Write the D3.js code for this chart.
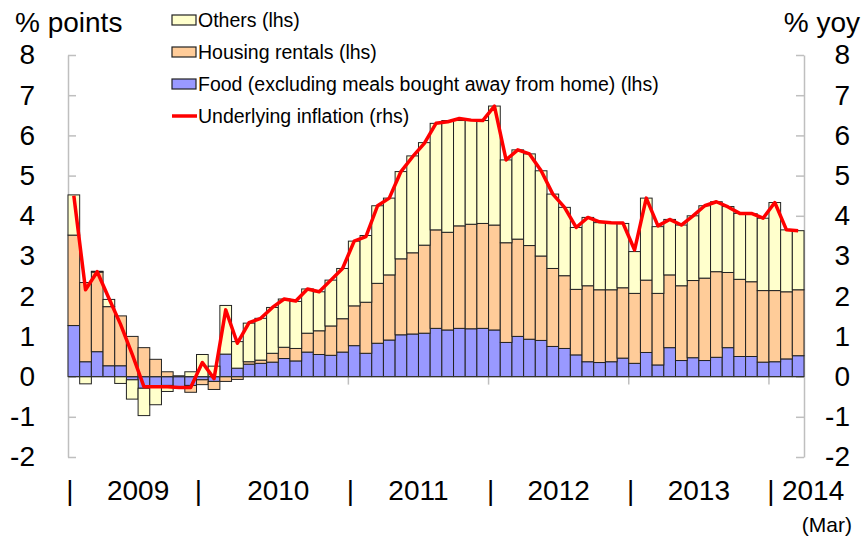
<!DOCTYPE html>
<html>
<head>
<meta charset="utf-8">
<script src="https://cdn.jsdelivr.net/npm/d3@7"></script>
<style>
  body { margin: 0; background: #fff; }
  svg text { font-family: "Liberation Sans", Arial, sans-serif; fill: #000; }
</style>
</head>
<body>
<svg id="chart" width="866" height="542"></svg>
<script>
// monthly, Jan 2009 - Mar 2014
var months = d3.timeMonths(new Date(2009, 0, 1), new Date(2014, 3, 1));

var food = [1.27, 0.37, 0.62, 0.27, 0.27, -0.08, -0.29, -0.25, -0.22, -0.25, -0.22, -0.08, -0.12, 0.56, 0.21,
  0.31, 0.33, 0.36, 0.45, 0.39, 0.61, 0.55, 0.53, 0.61, 0.77, 0.58, 0.83, 0.91, 1.04, 1.06, 1.08, 1.20,
  1.16, 1.20, 1.19, 1.20, 1.16, 0.85, 1.00, 0.93, 0.90, 0.75, 0.70, 0.54, 0.37, 0.35, 0.37,
  0.46, 0.33, 0.60, 0.29, 0.72, 0.40, 0.47, 0.40, 0.48, 0.72, 0.50, 0.50, 0.36, 0.37, 0.44, 0.52];

var housing = [2.25, 1.97, 1.98, 1.47, 1.24, 1.00, 0.72, 0.43, 0.12, 0.02, -0.17, -0.12, -0.20, -0.12, -0.07,
  0.06, 0.08, 0.22, 0.28, 0.31, 0.47, 0.59, 0.73, 0.83, 0.99, 1.27, 1.49, 1.62, 1.89, 2.02, 2.19, 2.45,
  2.43, 2.55, 2.60, 2.61, 2.61, 2.48, 2.42, 2.33, 2.10, 1.94, 1.81, 1.63, 1.89, 1.81, 1.79,
  1.75, 1.74, 1.80, 1.78, 1.81, 1.86, 1.92, 2.05, 2.13, 1.87, 1.92, 1.86, 1.78, 1.77, 1.67, 1.64];

var others = [1.00, -0.18, 0.02, 0.18, -0.17, -0.48, -0.68, -0.45, -0.15, 0.00, 0.12, 0.55, 0.26, 1.21, 0.66,
  0.96, 1.04, 1.14, 1.20, 1.17, 1.10, 0.97, 1.14, 1.25, 1.61, 1.66, 1.93, 1.91, 2.17, 2.41, 2.55, 2.65,
  2.78, 2.62, 2.58, 2.56, 2.96, 2.06, 2.22, 2.28, 2.12, 1.85, 1.70, 1.54, 1.70, 1.67, 1.65,
  1.60, 1.04, 2.04, 1.66, 1.38, 1.51, 1.61, 1.80, 1.74, 1.64, 1.64, 1.69, 1.80, 2.19, 1.54, 1.47];

var underlying = [4.50, 2.16, 2.61, 1.95, 1.30, 0.55, -0.25, -0.25, -0.25, -0.27, -0.27, 0.35, -0.05, 1.66, 0.83,
  1.34, 1.45, 1.72, 1.93, 1.88, 2.18, 2.11, 2.40, 2.69, 3.37, 3.48, 4.25, 4.44, 5.10, 5.47, 5.80, 6.30,
  6.34, 6.42, 6.38, 6.37, 6.73, 5.39, 5.64, 5.54, 5.12, 4.54, 4.21, 3.71, 3.96, 3.85, 3.83,
  3.82, 3.15, 4.44, 3.75, 3.91, 3.77, 4.00, 4.25, 4.35, 4.22, 4.06, 4.06, 3.94, 4.33, 3.65, 3.63];

var yTicks = [-2, -1, 0, 1, 2, 3, 4, 5, 6, 7, 8];
var years = ["2009", "2010", "2011", "2012", "2013", "2014"];

var series = [
  { key: "food", label: "Food (excluding meals bought away from home) (lhs)", color: "#9999ff" },
  { key: "housing", label: "Housing rentals (lhs)", color: "#ffcc99" },
  { key: "others", label: "Others (lhs)", color: "#ffffcc" }
];

var svg = d3.select("#chart");

var x = d3.scaleBand()
  .domain(d3.range(months.length))
  .range([68, 804])
  .padding(0);

var y = d3.scaleLinear()
  .domain([-2, 8])
  .range([457, 55]);

var rows = months.map(function(m, i) {
  return { date: m, food: food[i], housing: housing[i], others: others[i] };
});

var stack = d3.stack()
  .keys(series.map(function(s) { return s.key; }))
  .offset(d3.stackOffsetDiverging);

var stacked = stack(rows);

// axes
var axisColor = "#bfbfbf";
var plain = function(d) { return String(d); };   // keep ascii hyphen for negatives

var left = svg.append("g")
  .attr("transform", "translate(68,0)")
  .call(d3.axisLeft(y).tickValues(yTicks).tickFormat(plain).tickSizeInner(-8).tickSizeOuter(0).tickPadding(33));

var right = svg.append("g")
  .attr("transform", "translate(804,0)")
  .call(d3.axisRight(y).tickValues(yTicks).tickFormat(plain).tickSizeInner(-8).tickSizeOuter(0).tickPadding(46));

[left, right].forEach(function(g) {
  g.select(".domain").attr("stroke", axisColor).attr("stroke-width", 1.5);
  g.selectAll(".tick line").attr("stroke", axisColor).attr("stroke-width", 1.5);
  g.selectAll(".tick text")
    .attr("font-size", 28)
    .attr("font-family", "Liberation Sans, Arial, sans-serif")
    .attr("fill", "#000");
});
right.selectAll(".tick text").attr("text-anchor", "end");

// year ticks under the zero line
svg.append("g")
  .selectAll("line")
  .data(d3.range(12, months.length, 12))
  .enter().append("line")
    .attr("x1", function(d) { return x(d); })
    .attr("x2", function(d) { return x(d); })
    .attr("y1", y(0))
    .attr("y2", y(0) + 8)
    .attr("stroke", axisColor)
    .attr("stroke-width", 1.5);

// bars
svg.append("g")
  .selectAll("g")
  .data(stacked)
  .enter().append("g")
    .attr("fill", function(d, i) { return series[i].color; })
  .selectAll("rect")
  .data(function(d) { return d; })
  .enter().append("rect")
    .attr("x", function(d, i) { return x(i); })
    .attr("width", x.bandwidth())
    .attr("y", function(d) { return y(Math.max(d[0], d[1])); })
    .attr("height", function(d) { return Math.abs(y(d[0]) - y(d[1])); })
    .attr("stroke", "#222")
    .attr("stroke-width", 1);

// zero line
svg.append("line")
  .attr("x1", 68).attr("x2", 804)
  .attr("y1", y(0)).attr("y2", y(0))
  .attr("stroke", "#333")
  .attr("stroke-width", 1.2);

// underlying inflation
var line = d3.line()
  .x(function(d, i) { return x(i) + x.bandwidth() / 2; })
  .y(function(d) { return y(d); });

svg.append("path")
  .datum(underlying)
  .attr("fill", "none")
  .attr("stroke", "#ff0000")
  .attr("stroke-width", 3.5)
  .attr("stroke-linejoin", "round")
  .attr("d", line);

// axis titles
svg.append("text").attr("x", 15).attr("y", 32).attr("font-size", 28).text("% points");
svg.append("text").attr("x", 860).attr("y", 32).attr("font-size", 28).attr("text-anchor", "end").text("% yoy");

// x labels
var seps = [0, 11, 24, 36, 48, 60];
svg.append("g")
  .selectAll("text")
  .data(seps)
  .enter().append("text")
    .attr("x", function(d) { return x(d) + 2; })
    .attr("y", 500)
    .attr("font-size", 28)
    .attr("text-anchor", "middle")
    .text("|");

svg.append("g")
  .selectAll("text")
  .data(years)
  .enter().append("text")
    .attr("x", function(d, i) {
      if (i === years.length - 1) return x(60) + 13;
      return x(i * 12) + 6 * x.bandwidth();
    })
    .attr("y", 500)
    .attr("font-size", 28)
    .attr("text-anchor", function(d, i) { return i === years.length - 1 ? "start" : "middle"; })
    .text(function(d) { return d; });

svg.append("text")
  .attr("x", 852).attr("y", 532)
  .attr("font-size", 21)
  .attr("text-anchor", "end")
  .text("(Mar)");

// legend
var legendItems = [series[2], series[1], series[0], { label: "Underlying inflation (rhs)", color: "#ff0000", isLine: true }];

var legend = svg.append("g")
  .selectAll("g")
  .data(legendItems)
  .enter().append("g")
    .attr("transform", function(d, i) { return "translate(172," + (20 + i * 32) + ")"; });

legend.filter(function(d) { return !d.isLine; })
  .append("rect")
    .attr("x", 0).attr("y", -5)
    .attr("width", 24).attr("height", 10)
    .attr("fill", function(d) { return d.color; })
    .attr("stroke", "#222")
    .attr("stroke-width", 1.2);

legend.filter(function(d) { return d.isLine; })
  .append("line")
    .attr("x1", 0).attr("x2", 25)
    .attr("y1", 0).attr("y2", 0)
    .attr("stroke", "#ff0000")
    .attr("stroke-width", 3.5);

legend.append("text")
  .attr("x", 26)
  .attr("y", 7)
  .attr("font-size", 19.5)
  .text(function(d) { return d.label; });
</script>
</body>
</html>
